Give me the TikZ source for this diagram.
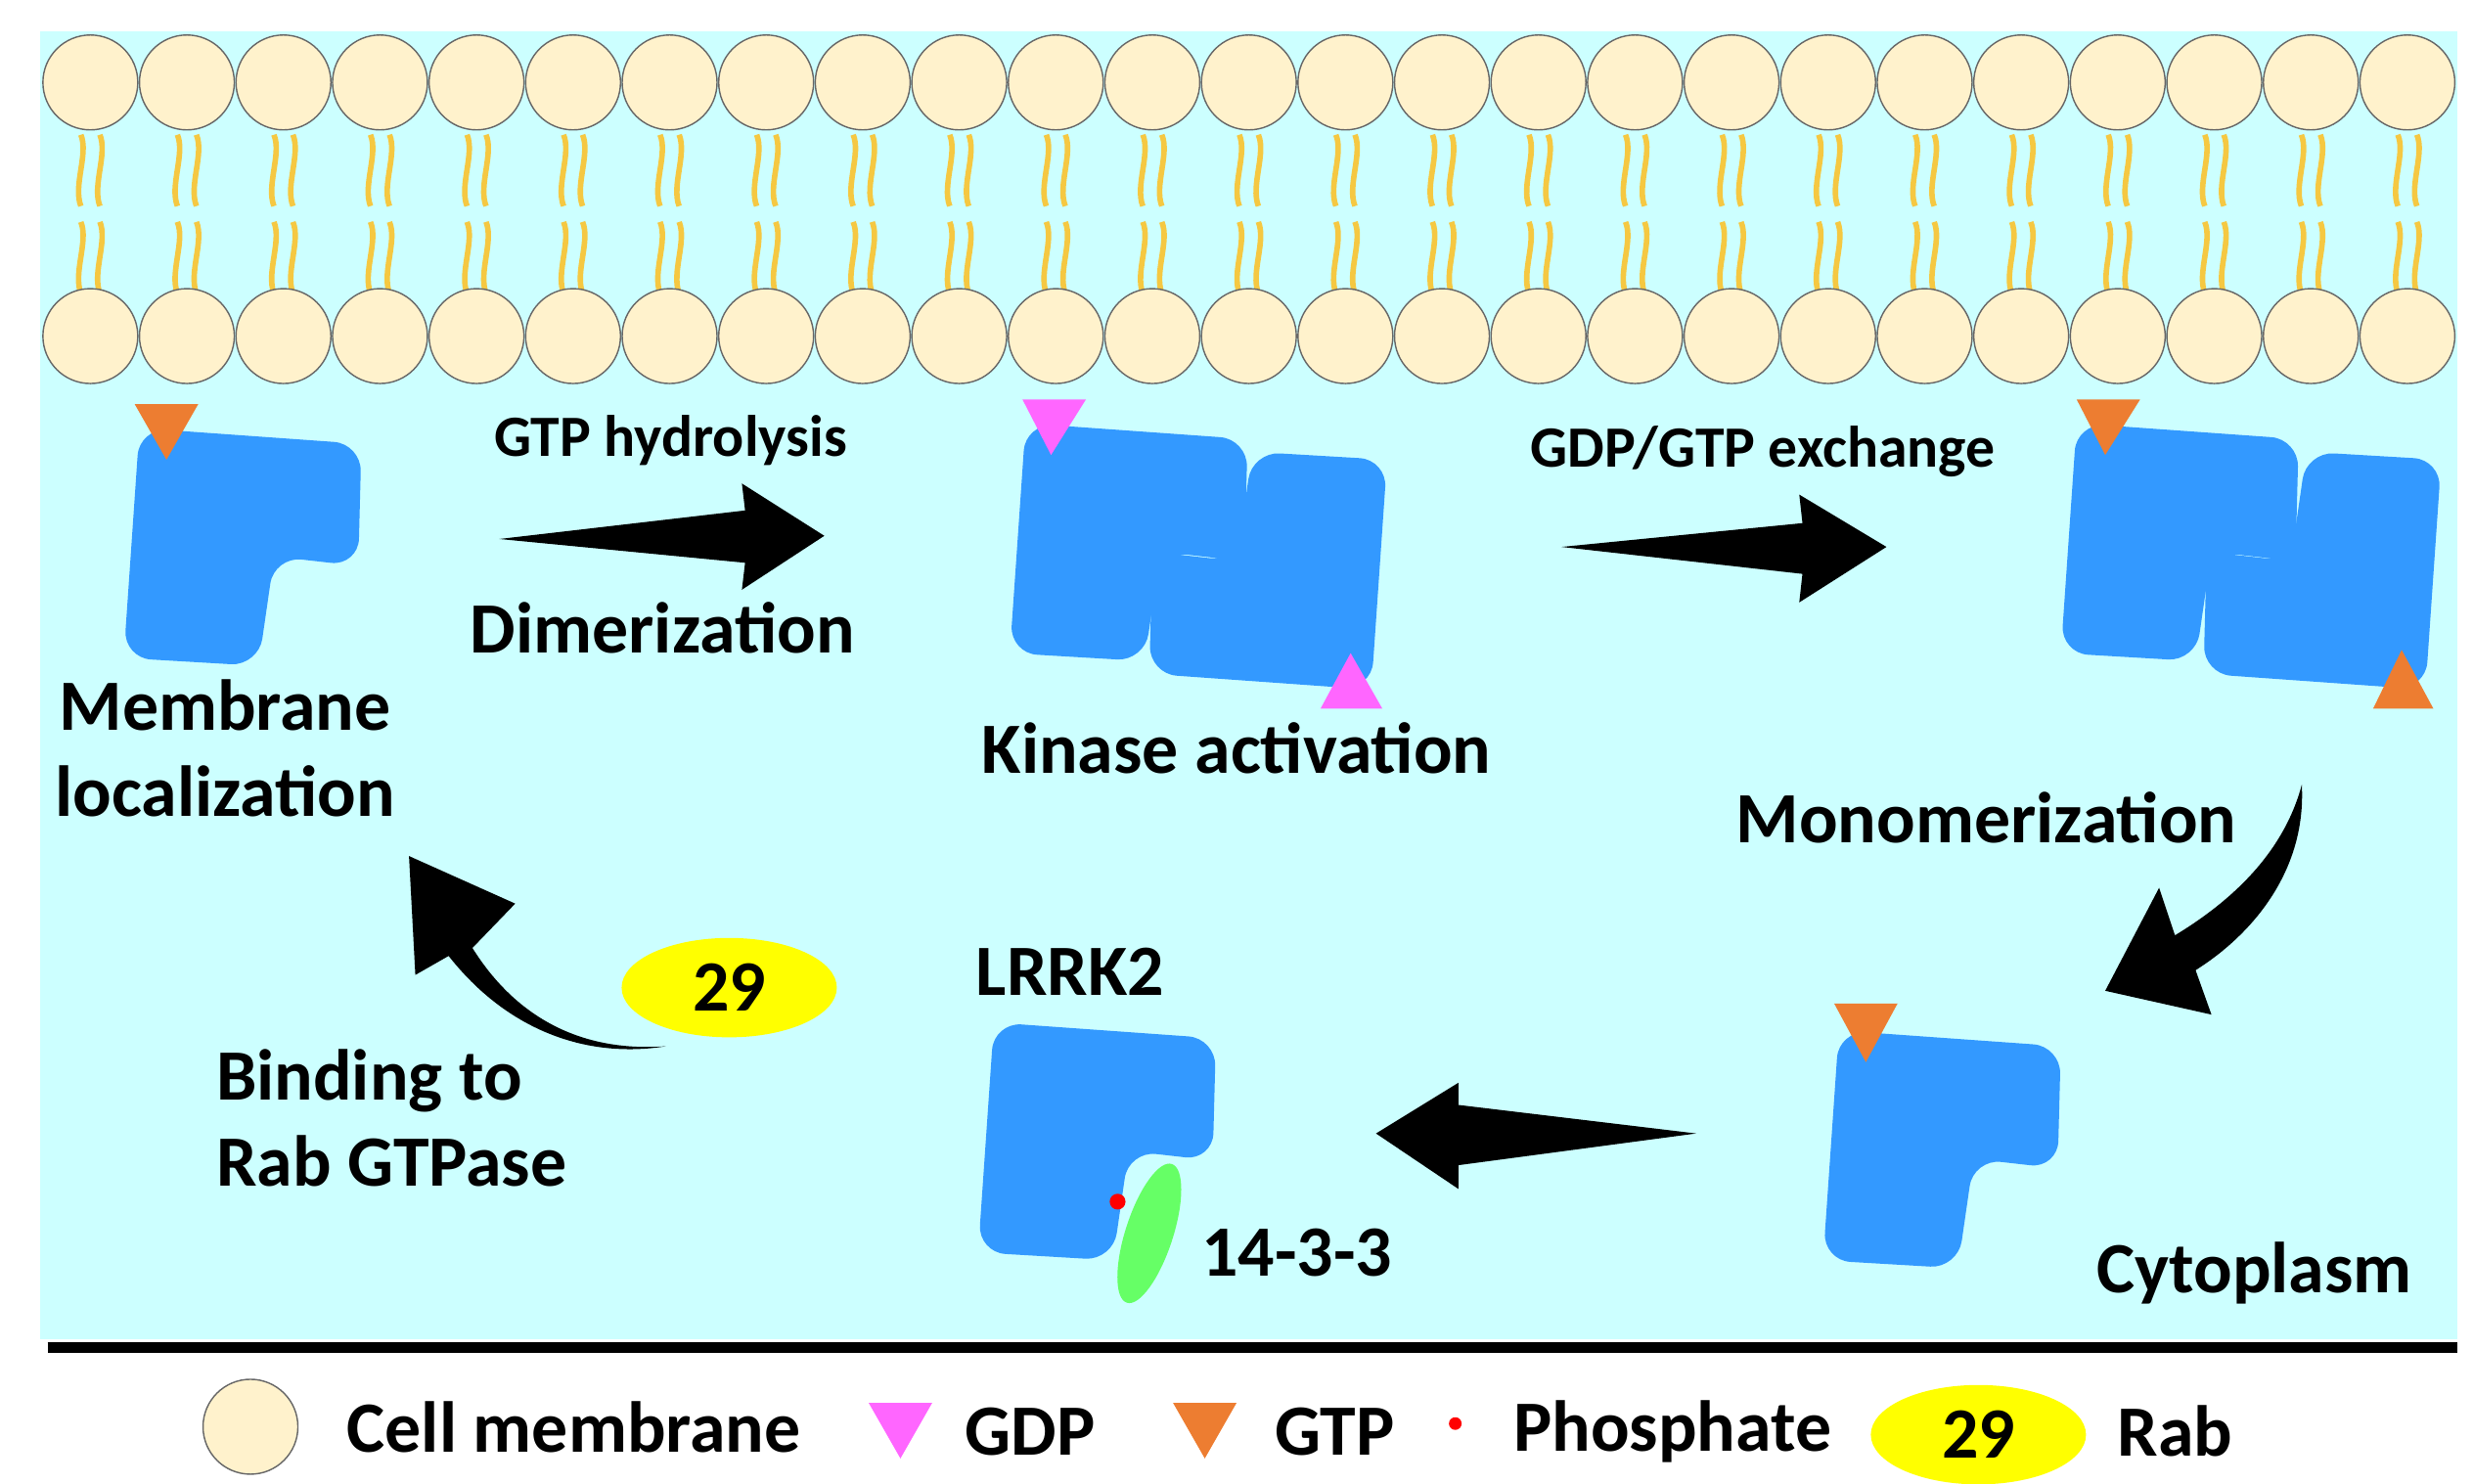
\documentclass[tikz,border=0pt]{standalone}
\usepackage{fontspec}
\setmainfont{Carlito}
\usepackage{tikz}
\usetikzlibrary{shapes.geometric}
\definecolor{cyto}{HTML}{CCFFFF}
\definecolor{prot}{HTML}{3399FF}
\definecolor{head}{HTML}{FFF2CC}
\definecolor{tail}{HTML}{F5C842}
\definecolor{gtp}{HTML}{ED7D31}
\definecolor{gdp}{HTML}{FF66FF}
\definecolor{rabc}{HTML}{FFFF00}
\tikzset{
  lbl/.style={font=\bfseries\fontsize{21}{25}\selectfont, align=center},
  slbl/.style={font=\bfseries\fontsize{17}{20}\selectfont},
  lipid/.style={draw=black!60, fill=head, circle, minimum size=0.97cm, inner sep=0pt},
  mono/.pic={\fill[prot, rounded corners=8] (10,5) -- (150,15) -- (148,92) -- (95,86) -- (85,155) -- (0,150) -- cycle;},
  fat/.style={fill=black}
}
\begin{document}
\begin{tikzpicture}[x=0.0162cm, y=-0.0162cm]
\useasboundingbox (0,0) rectangle (1560,936);
\fill[cyto] (25,20) rectangle (1550,845);
\draw[line width=3pt] (30,850) -- (1550,850);

% membrane tails and heads
\foreach \i in {0,...,24} {
  \pgfmathsetmacro\xx{57+60.9*\i}
  \foreach \d in {-6,6} {
    \foreach \ya in {85,140} {
      \draw[tail, line width=1.6pt] (\xx+\d,\ya) .. controls (\xx+\d+5,\ya+12) and (\xx+\d-5,\ya+32) .. (\xx+\d,\ya+45);
    }
  }
  \node[lipid] (t\i) at (\xx,52) {};
  \node[lipid] (b\i) at (\xx,212) {};
}

% proteins
\pic at (78,265) {mono};
\pic at (637,262) {mono};
\pic[rotate=180] at (875,440) {mono};
\pic at (1300,262) {mono};
\pic[rotate=180] at (1540,440) {mono};
\pic at (1150,645) {mono};
\pic at (617,640) {mono};

% nucleotides
\fill[gtp] (85,255) -- (125,255) -- (105,290) -- cycle;
\fill[gdp] (645,252) -- (685,252) -- (663,287) -- cycle;
\fill[gdp] (833,447) -- (872,447) -- (852,412) -- cycle;
\fill[gtp] (1310,252) -- (1350,252) -- (1328,287) -- cycle;
\fill[gtp] (1497,447) -- (1535,447) -- (1515,410) -- cycle;
\fill[gtp] (1157,633) -- (1197,633) -- (1177,670) -- cycle;

% 14-3-3 and phosphate
\fill[green!60] (725,778) ellipse[x radius=15, y radius=46, rotate=-18];
\fill[red] (705,758) circle (5);
\node[fill=rabc, ellipse, minimum width=2.2cm, minimum height=0.9cm, lbl] (rab) at (460,623) {29};

% arrows
\fill[fat] (315,340) -- (470,322) -- (468,305) -- (520,338) -- (468,372) -- (470,355) -- cycle;
\fill[fat] (985,345) -- (1137,330) -- (1135,312) -- (1190,345) -- (1135,380) -- (1137,362) -- cycle;
\fill[fat] (1070,715) -- (920,735) -- (920,750) -- (868,715) -- (920,683) -- (920,697) -- cycle;
\fill[fat] (1452,495) .. controls (1455,550) and (1420,590) .. (1385,612) -- (1395,640) -- (1328,625) -- (1362,560) -- (1372,590) .. controls (1405,570) and (1440,540) .. (1452,495);
\fill[fat] (420,660) .. controls (350,665) and (315,625) .. (298,598) -- (325,570) -- (258,540) -- (262,615) -- (283,603) .. controls (320,650) and (370,668) .. (420,660);

% labels
\node[slbl] (hyd) at (423,278) {GTP hydrolysis};
\node[lbl] (dim) at (418,396) {Dimerization};
\node[lbl] (memb) at (142,472) {Membrane\\localization};
\node[lbl] (kin) at (780,472) {Kinase activation};
\node[slbl] (exch) at (1112,285) {GDP/GTP exchange};
\node[lbl] (monom) at (1253,516) {Monomerization};
\node[lbl] (lrrk) at (675,613) {LRRK2};
\node[lbl] (f1433) at (818,790) {14-3-3};
\node[lbl] (cyt) at (1422,803) {Cytoplasm};
\node[lbl, align=left] (bind) at (247,705) {Binding to\\Rab GTPase};

% legend
\node[lipid] (lcm) at (158,900) {};
\node[lbl] (tcm) at (362,900) {Cell membrane};
\fill[gdp] (548,885) -- (588,885) -- (568,920) -- cycle;
\node[lbl] (tgdp) at (650,903) {GDP};
\fill[gtp] (740,885) -- (780,885) -- (760,920) -- cycle;
\node[lbl] (tgtp) at (842,903) {GTP};
\fill[red] (918,898) circle (4);
\node[lbl] (tph) at (1055,903) {Phosphate};
\node[fill=rabc, ellipse, minimum width=2.2cm, minimum height=0.9cm, lbl] (lrab) at (1248,905) {29};
\node[lbl] (trab) at (1372,903) {Rab};
\end{tikzpicture}
\end{document}
